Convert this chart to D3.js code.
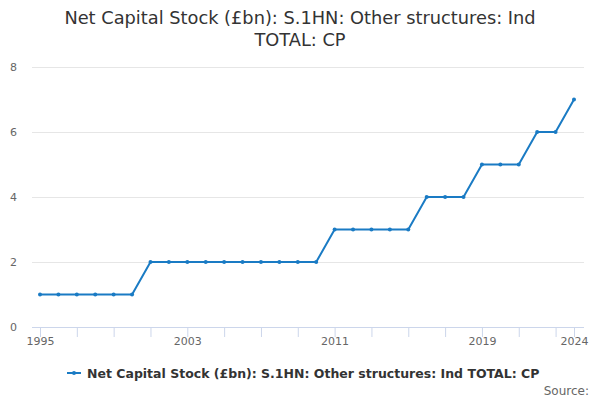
<!DOCTYPE html>
<html>
<head>
<meta charset="utf-8">
<script src="https://cdn.jsdelivr.net/npm/d3@7"></script>
<style>
  body { margin: 0; background: #fff; }
  text { font-family: "DejaVu Sans", sans-serif; }
</style>
</head>
<body>
<div id="vis"></div>
<script>
// data
var years = d3.range(1995, 2025)
var values = [1,1,1,1,1,1, 2,2,2,2,2,2,2,2,2,2, 3,3,3,3,3, 4,4,4, 5,5,5, 6,6, 7]
var yTicks = [0, 2, 4, 6, 8]
var xLabels = [1995, 2003, 2011, 2019, 2024]
var xTicks = d3.range(1995, 2024, 2).concat([2024])
var seriesName = "Net Capital Stock (£bn): S.1HN: Other structures: Ind TOTAL: CP"

var width = 600, height = 400
var color = "#1a7bc4"

var x = d3.scaleLinear().domain([1995, 2024]).range([40, 574])
var y = d3.scaleLinear().domain([0, 8]).range([327, 67])

var svg = d3.select("#vis").append("svg")
  .attr("width", width)
  .attr("height", height)

// title
svg.append("text")
  .attr("x", width/2).attr("y", 24)
  .attr("text-anchor", "middle")
  .attr("fill", "#333").style("font-size", "17.8px")
  .text("Net Capital Stock (£bn): S.1HN: Other structures: Ind")
svg.append("text")
  .attr("x", width/2).attr("y", 46)
  .attr("text-anchor", "middle")
  .attr("fill", "#333").style("font-size", "17.8px")
  .text("TOTAL: CP")

// grid + y labels
var yAxis = svg.append("g")
  .attr("transform", "translate(32,0)")
  .call(d3.axisLeft(y).tickValues(yTicks).tickSize(-552).tickPadding(14))
yAxis.select(".domain").remove()
yAxis.selectAll(".tick line").attr("stroke", "#e6e6e6")
yAxis.selectAll(".tick text").attr("fill", "#666").style("font-size", "11px")
  .attr("text-anchor", "end").attr("x", -15)
yAxis.selectAll(".tick").filter(d => d === 0).select("line").remove()

// x axis
var xAxis = svg.append("g")
  .attr("transform", "translate(0,327)")
  .call(d3.axisBottom(x).tickValues(xTicks).tickSize(10).tickFormat(d => xLabels.includes(d) ? d : ""))
xAxis.select(".domain").attr("d", "M32,0.5H584").attr("stroke", "#ccd6eb")
xAxis.selectAll(".tick line").attr("stroke", "#ccd6eb")
xAxis.selectAll(".tick text").attr("fill", "#666").style("font-size", "11px").attr("y", 10)

// line
var line = d3.line().x((d, i) => x(years[i])).y(d => y(d))
svg.append("path")
  .datum(values)
  .attr("d", line)
  .attr("fill", "none")
  .attr("stroke", color)
  .attr("stroke-width", 2)

svg.selectAll("circle.pt")
  .data(values)
  .enter().append("circle")
  .attr("class", "pt")
  .attr("cx", (d, i) => x(years[i]))
  .attr("cy", d => y(d))
  .attr("r", 2)
  .attr("fill", color)

// legend
var legend = svg.append("g").attr("transform", "translate(0,373)")
legend.append("line")
  .attr("x1", 67).attr("x2", 81).attr("y1", 0).attr("y2", 0)
  .attr("stroke", color).attr("stroke-width", 2)
legend.append("circle").attr("cx", 74).attr("cy", 0).attr("r", 2).attr("fill", color)
legend.append("text")
  .attr("x", 87).attr("y", 4.5)
  .attr("fill", "#333").style("font-size", "12.5px").style("font-weight", "bold")
  .text(seriesName)

// source
svg.append("text")
  .attr("x", 589).attr("y", 395)
  .attr("text-anchor", "end")
  .attr("fill", "#666").style("font-size", "12px")
  .text("Source:")
</script>
</body>
</html>
